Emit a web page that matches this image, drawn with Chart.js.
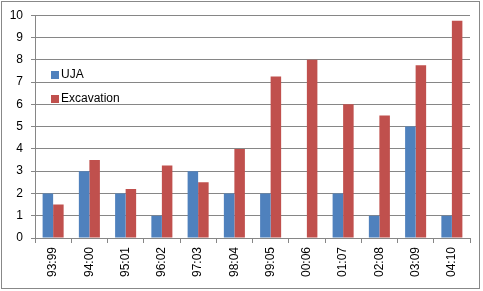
<!DOCTYPE html>
<html>
<head>
<meta charset="utf-8">
<script src="https://cdn.jsdelivr.net/npm/chart.js@4/dist/chart.umd.min.js"></script>
<style>
  html, body { margin: 0; padding: 0; background: #fff; }
  #wrap { width: 483px; height: 291px; }
</style>
</head>
<body>
<div id="wrap"><canvas id="barChart" width="483" height="291"></canvas></div>
<script>
const periods = ["93:99", "94:00", "95:01", "96:02", "97:03", "98:04", "99:05", "00:06", "01:07", "02:08", "03:09", "04:10"];
const ujaValues = [2, 3, 2, 1, 3, 2, 2, 0, 2, 1, 5, 1];
const excavationValues = [1.5, 3.5, 2.2, 3.25, 2.5, 4, 7.25, 8, 6, 5.5, 7.75, 9.75];

const gridGray = "#868686";
const fontFamily = "'Liberation Sans', Arial, sans-serif";

/* frame around the whole picture + legend inside the plot */
const excelBits = {
    id: "excelBits",
    afterDraw(chart) {
        let ctx = chart.ctx;
        ctx.save();
        ctx.strokeStyle = "#888";
        ctx.lineWidth = 1;
        ctx.strokeRect(1.5, 1.5, 478, 287);

        ctx.font = "12px " + fontFamily;
        ctx.textBaseline = "middle";
        ctx.fillStyle = "#000";
        chart.data.datasets.forEach((ds, i) => {
            let y = 71 + i * 24;
            ctx.fillStyle = ds.backgroundColor;
            ctx.fillRect(51, y, 8, 8);
            ctx.fillStyle = "#000";
            ctx.fillText(ds.label, 61, y + 4);
        });
        ctx.restore();
    }
};

let ctx = document.getElementById("barChart").getContext("2d");
let chart = new Chart(ctx, {
    type: "bar",
    data: {
        labels: periods,
        datasets: [
            { label: "UJA", data: ujaValues, backgroundColor: "#4F81BD" },
            { label: "Excavation", data: excavationValues, backgroundColor: "#C0504D" }
        ]
    },
    options: {
        responsive: false,
        animation: false,
        layout: { padding: { left: 0, right: 13, top: 15, bottom: 0 } },
        datasets: { bar: { categoryPercentage: 0.58, barPercentage: 1 } },
        plugins: { legend: { display: false }, tooltip: { enabled: false } },
        scales: {
            x: {
                grid: { offset: true, drawOnChartArea: false, drawTicks: true, tickLength: 5, color: gridGray },
                border: { display: true, color: gridGray },
                ticks: {
                    minRotation: 90, maxRotation: 90, padding: 4,
                    color: "#000", font: { family: fontFamily, size: 12 }
                },
                afterFit(scale) { scale.height = 53; }
            },
            y: {
                min: 0, max: 10,
                grid: { color: gridGray, tickLength: 4 },
                border: { display: true, color: gridGray },
                ticks: {
                    stepSize: 1, padding: 8,
                    color: "#000", font: { family: fontFamily, size: 12 }
                },
                afterFit(scale) { scale.width = 35; }
            }
        }
    },
    plugins: [excelBits]
});
</script>
</body>
</html>
